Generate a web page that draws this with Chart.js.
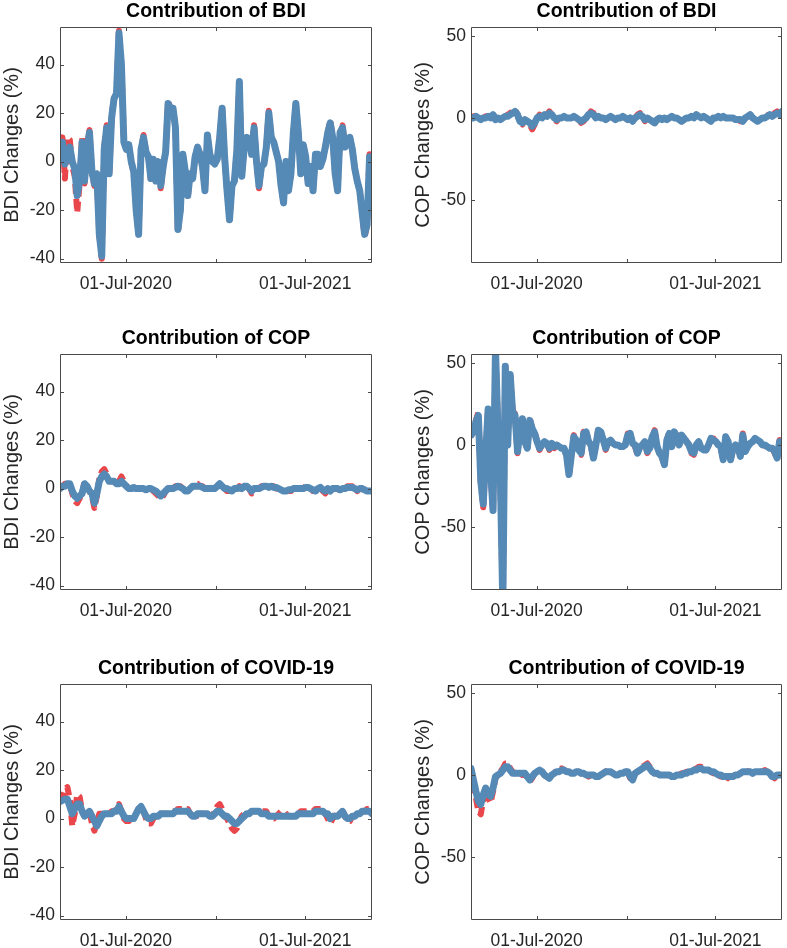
<!DOCTYPE html>
<html>
<head>
<meta charset="utf-8">
<script src="https://cdn.jsdelivr.net/npm/chart.js@4.4.0/dist/chart.umd.min.js"></script>
<style>
  body { margin: 0; background: #fff; width: 787px; height: 948px; position: relative; overflow: hidden; }
  canvas { position: absolute; }
</style>
</head>
<body>
<canvas id="c0"></canvas>
<canvas id="c1"></canvas>
<canvas id="c2"></canvas>
<canvas id="c3"></canvas>
<canvas id="c4"></canvas>
<canvas id="c5"></canvas>
<script>
// x values are days counted from 01-Jan-2020, one sample every 5 days
const dayNumbers = [];
for (let d = 48; d <= 683; d += 5) dayNumbers.push(d);

const xTickDays = [182, 366, 547];
const xTickLabels = ['01-Jul-2020', '', '01-Jul-2021'];
const leftYTicks = [-40, -20, 0, 20, 40];
const rightYTicks = [-50, 0, 50];
const leftYRange = [-41.8, 55.5];
const rightYRange = [-88.5, 55.5];

// Contribution of BDI -> BDI changes
const bdiBdiSolid = [
  4, 8, -1, 3, 6, 0, -3, -14, -8, 8,
  -8, 5, 12, -4, -9, -5, -30, -39, 5, 14,
  -5, 18, 26, 28, 53, 40, 8, 5, 7, 0,
  -4, -20, -30, 5, 10, 4, 2, -7, 1, -8,
  0, -10, -2, 4, 24, 22, 22, 14, -28, -20,
  3, -4, -14, -5, -7, 2, 6, 3, -2, -12,
  11, 3, 0, -1, 1, 10, 22, 2, -12, -24,
  -10, -8, 5, 33, -6, 6, 10, 9, 3, 14,
  0, -10, -2, -1, 6, 20, 10, 8, 4, 0,
  -10, -17, 0, -12, -5, 12, 24, 12, -5, 7,
  2, -9, -2, -12, 3, 3, -2, 1, 6, 12,
  16, 10, -5, -12, 12, 14, 6, 9, 10, 5,
  -3, -8, -12, -21, -30, -26, 2, 1
];
const bdiBdiDashed = [
  2, 10, -7, 10, 9, -2, -6, -21, -9, 10,
  -9, 6, 13, -5, -10, -6, -30, -40, 6, 15,
  -6, 19, 26, 28, 54, 40, 9, 5, 7, 0,
  -5, -20, -30, 5, 11, 4, 2, -8, 1, -9,
  0, -11, -2, 4, 25, 22, 22, 14, -29, -20,
  3, -4, -15, -5, -7, 2, 6, 3, -2, -12,
  11, 3, 0, -1, 1, 10, 23, 2, -12, -24,
  -10, -8, 5, 34, -6, 6, 10, 9, 3, 15,
  0, -11, -2, -1, 6, 21, 10, 8, 4, 0,
  -10, -17, 0, -12, -5, 12, 24, 12, -5, 7,
  2, -9, -2, -12, 3, 3, -2, 1, 6, 12,
  17, 10, -5, -12, 12, 15, 6, 9, 10, 5,
  -3, -8, -12, -21, -31, -26, 3, 1
];

// Contribution of BDI -> COP changes
const bdiCopSolid = [
  0, 0, 1, 0, -1, 0, 0, 1, 0, 2,
  -1, 0, -1, 0, 1, 1, 2, 3, 4, 2,
  -2, -3, -1, -2, -3, -5, -3, 0, 1, 0,
  2, 1, 3, 2, 0, -1, 0, 0, 1, 0,
  0, 0, 1, 0, -1, -2, -1, 0, 2, 3,
  2, 0, 1, 0, 0, -1, 0, 1, 0, -1,
  0, 0, 1, 0, -1, 0, -2, 0, 1, 2,
  1, -1, 0, -1, -2, -3, -1, 0, -1, 0,
  -1, 0, 1, 0, 0, -1, -2, -1, 0, 0,
  1, 0, 2, 1, 0, 1, 0, -1, -2, 0,
  0, 1, 0, 1, 0, 0, 0, 0, -1, -1,
  -1, -2, 0, 1, 2, 0, -1, -2, -1, 0,
  0, 1, 2, 1, 2, 3, 2, 4
];
const bdiCopDashed = [
  0, 1, 1, 0, -1, 0, 1, 1, 0, 3,
  -1, 0, -1, 0, 1, 2, 3, 4, 5, 2,
  -3, -4, -1, -3, -4, -7, -4, 0, 2, 1,
  3, 2, 4, 2, -1, -2, 0, 0, 1, 0,
  0, 0, 1, 0, -1, -3, -2, 0, 2, 4,
  3, 0, 1, 0, 0, -1, 0, 1, 0, -1,
  0, 0, 1, 0, -1, 0, -3, 0, 2, 3,
  1, -2, 0, -1, -3, -3, -1, 0, -1, 0,
  -1, 0, 1, 0, 0, -1, -2, -1, 0, 0,
  1, 0, 2, 1, 0, 1, 0, -1, -3, 0,
  0, 1, 0, 1, 0, 0, 0, 0, -1, -1,
  -2, -2, 0, 1, 2, 0, -1, -2, -1, 0,
  0, 1, 3, 1, 3, 4, 3, 5
];

// Contribution of COP -> BDI changes
const copBdiSolid = [
  0, 1, 1, 2, 2, -1, -3, -4, -3, -2,
  2, 1, -1, -2, -6, -2, 3, 5, 6, 5,
  3, 3, 3, 2, 2, 3, 2, 1, 0, 0,
  0.5, 0, 0, 0, 0, -0.5, 0, 0, -0.5, -1,
  -2, -3, -2, -1, 0, 0, 0, 0.5, 1, 0.5,
  0, -1, -1, 0, 1, 1, 1, 1, 0.5, 0,
  0, 0, 0, 0, 1, 2, 1, 0, 0, -0.5,
  -1, 0, 0, 0.5, 0, 1, 1, 0, -1, 0,
  0, 0, 0.5, 1, 1, 0.5, 1, 0.5, 0.5, 0,
  -0.5, -1, -1, -0.5, -0.5, 0, 0, 0, 0, 0,
  0.5, 0.5, 0, -0.5, -1, 0, 0.5, -0.5, -1, 0,
  -1, 0, 0, 0, -0.5, 0, 0, 0.5, 0.5, 0.5,
  0, -0.5, 0, 0, -0.5, -1, -1, -1
];
const copBdiDashed = [
  0, 1, 2, 2, 2, -2, -5, -6, -4, -2,
  3, 1, -1, -3, -8, -3, 4, 7, 8, 6,
  3, 3, 3, 2, 3, 5, 3, 1, 0, 0,
  0.5, 0, 0, 0, 0, -0.5, 0, 0, -1, -2,
  -3, -4, -3, -1, 0, 0, 0, 1, 1, 1,
  0, -1, -1, 0, 1, 2, 2, 1, 1, 0,
  0, 0, 0, 0, 1, 2, 1, 0, -1, -1,
  -1, 0, 0, 1, 0, 1, 1, 0, -2, -1,
  0, 0, 1, 1, 1, 1, 1, 1, 0, 0,
  -1, -1, -1, -1, -1, 0, 0, 0, 0, 0,
  1, 1, 0, -1, -1, 0, 0, -1, -2, 0,
  -1, 0, 0, 0, -1, 0, 0, 1, 1, 1,
  0, -1, 0, 0, -1, -1, -1, -1
];

// Contribution of COP -> COP changes
const copCopSolid = [
  6, 8, 14, 18, -22, -36, -5, 22, -15, -40,
  58, 10, -20, -98, 48, 0, 43, 20, 18, -4,
  8, 16, 2, -2, 15, 10, 7, 2, -2, 0,
  2, 1, -2, 1, -1, 0, -1, -2, -2, -6,
  -18, -6, 5, 3, -3, -5, 7, 8, 2, 0,
  -8, 0, 9, 8, 3, -2, 2, 3, 1, 0,
  0, -1, -1, 0, 6, 7, 1, 0, -5, -1,
  0, 2, -4, -2, 5, 8, -1, -5, -7, -12,
  3, 7, -1, 8, 5, 0, 6, 4, 2, 0,
  -4, -5, 0, 2, -2, -3, -3, 0, 4, 3,
  2, 0, -1, -9, 5, 2, -9, -2, 0, -1,
  -7, 6, -4, -1, 1, 2, 4, 3, 2, 0,
  0, -1, -2, -2, -4, -8, 2, -2
];
const copCopDashed = [
  5, 9, 15, 20, -23, -38, -6, 23, -16, -41,
  58, 11, -21, -98, 50, 1, 44, 21, 19, -5,
  9, 17, 3, -3, 16, 10, 8, 2, -3, 0,
  2, 1, -3, 1, -2, 0, -2, -2, -2, -7,
  -18, -6, 6, 3, -4, -6, 8, 9, 2, -1,
  -8, 0, 10, 8, 3, -3, 2, 3, 1, 0,
  0, -2, -1, 0, 7, 7, 1, -1, -6, -1,
  0, 2, -5, -2, 5, 9, -1, -5, -8, -12,
  3, 8, -2, 8, 6, 0, 6, 5, 2, 0,
  -5, -6, 0, 2, -3, -4, -3, 0, 4, 4,
  2, 0, -2, -9, 5, 2, -9, -3, 0, -1,
  -7, 7, -4, -1, 1, 2, 4, 3, 2, 0,
  0, -2, -3, -2, -5, -9, 3, -2
];

// Contribution of COVID-19 -> BDI changes
const covidBdiSolid = [
  7, 7.5, 8, 8, 5, 2, 4, 6, 6, 3,
  1, 2, 3, 1, -1, -3, -1, 1, 2, 2,
  2, 2, 3, 3, 5, 3, 1, 0, 0, 0,
  0, 2, 4, 5, 3, 1, 0, 0, 1, 1,
  1, 2, 2, 2, 2, 2, 2, 3, 3, 3,
  3, 3, 3, 2, 1, 1, 2, 2, 2, 2,
  2, 1, 1, 2, 3, 3, 2, 1, 1, 0,
  -1, -2, -2, -1, 0, 1, 2, 2, 3, 3,
  3, 3, 2, 2, 2, 1, 1, 1, 1, 1,
  1, 1, 1, 1, 1, 1, 1, 2, 2, 2,
  2, 2, 2, 2, 3, 3, 3, 3, 2, 2,
  0, 1, 1, 1, 2, 3, 1, 0, 0, 1,
  1, 2, 2, 3, 3, 3, 3, 2
];
const covidBdiDashed = [
  7, 9, 12, 13, 8, -3, 2, 10, 9, 3,
  1, 2, 3, -2, -5, -2, 2, 2, 2, 2,
  2, 3, 3, 4, 6, 3, 0, -1, -1, 0,
  1, 2, 4, 5, 3, 0, -2, -2, 0, 1,
  2, 2, 2, 2, 2, 3, 3, 3, 4, 4,
  4, 4, 4, 2, 0, 0, 2, 2, 2, 2,
  2, 1, 1, 3, 5, 6, 4, 1, 0, -2,
  -4, -5, -4, -1, 1, 2, 2, 2, 3, 3,
  3, 3, 3, 3, 3, 1, 0, 0, 1, 2,
  3, 3, 2, 1, 1, 1, 1, 2, 3, 3,
  3, 3, 3, 3, 4, 4, 4, 4, 2, 0,
  -2, 0, 1, 2, 3, 3, 1, -1, -1, 1,
  1, 2, 2, 3, 3, 4, 4, 2
];

// Contribution of COVID-19 -> COP changes
const covidCopSolid = [
  4, -3, -10, -16, -18, -12, -8, -12, -13, -8,
  -1, 0, 1, 3, 5, 5, 3, 1, 1, 1,
  1, 1, 1, -1, -3, -1, 1, 2, 3, 2,
  0, -1, -2, 0, 1, 2, 2, 3, 3, 2,
  2, 1, 1, 2, 2, 1, 1, 0, 0, 0,
  0, -1, -1, 0, 1, 2, 2, 2, 1, 0,
  0, 1, 1, 2, 2, -1, -3, 1, 2, 3,
  4, 5, 6, 4, 2, 1, 1, 0, 0, 0,
  0, 0, -1, -1, 0, 0, 0, 1, 1, 2,
  2, 3, 3, 4, 4, 3, 3, 3, 2, 2,
  1, 0, 0, -1, -1, -1, -1, -1, 0, 0,
  1, 2, 2, 2, 2, 1, 2, 2, 2, 2,
  2, 2, 1, -1, -1, 0, 0, 0
];
const covidCopDashed = [
  4, -5, -14, -22, -24, -15, -9, -14, -17, -10,
  -2, 0, 2, 4, 7, 7, 4, 2, 1, 1,
  1, 0, 1, -2, -4, -2, 1, 3, 3, 2,
  0, -2, -2, 0, 1, 3, 3, 4, 3, 2,
  2, 1, 1, 2, 2, 1, 0, 0, -1, 0,
  0, -1, -2, 0, 1, 2, 3, 2, 1, 0,
  0, 1, 2, 2, 2, -2, -3, 1, 2, 3,
  5, 6, 7, 5, 2, 1, 1, 0, -1, -1,
  0, 0, -1, -1, 0, 0, 1, 1, 2, 2,
  3, 3, 4, 5, 5, 4, 3, 3, 2, 1,
  1, 0, -1, -1, -1, -2, -1, -1, 0, 0,
  1, 2, 3, 2, 2, 1, 2, 3, 2, 2,
  3, 2, 1, -1, -2, 0, 0, 0
];

const fontFamily = "'Liberation Sans', Arial, sans-serif";
const axisColor = '#262626';
const solidColor = '#568ab6';
const dashedColor = '#e9474c';

// box round the plot plus inward tick marks, like the original figure
const framePlugin = {
    id: 'frame',
    afterDatasetsDraw(chart) {
        const { ctx, chartArea: a, scales: { x, y } } = chart;
        const len = 4;
        ctx.save();
        ctx.strokeStyle = '#4a4a4a';
        ctx.lineWidth = 1;
        ctx.beginPath();
        ctx.rect(a.left + 0.5, a.top + 0.5, a.width - 1, a.height - 1);
        x.ticks.forEach(t => {
            const px = Math.round(x.getPixelForValue(t.value)) + 0.5;
            ctx.moveTo(px, a.bottom); ctx.lineTo(px, a.bottom - len);
            ctx.moveTo(px, a.top); ctx.lineTo(px, a.top + len);
        });
        y.ticks.forEach(t => {
            const py = Math.round(y.getPixelForValue(t.value)) + 0.5;
            ctx.moveTo(a.left, py); ctx.lineTo(a.left + len, py);
            ctx.moveTo(a.right, py); ctx.lineTo(a.right - len, py);
        });
        ctx.stroke();
        ctx.restore();
    }
};

const panels = [
    { id: 'c0', left: 0, top: 0, width: 393, height: 300, padRight: 21, title: 'Contribution of BDI', yLabel: 'BDI Changes (%)', solid: bdiBdiSolid, dashed: bdiBdiDashed, yRange: leftYRange, yTicks: leftYTicks },
    { id: 'c1', left: 411, top: 0, width: 376, height: 300, padRight: 5, title: 'Contribution of BDI', yLabel: 'COP Changes (%)', solid: bdiCopSolid, dashed: bdiCopDashed, yRange: rightYRange, yTicks: rightYTicks },
    { id: 'c2', left: 0, top: 327, width: 393, height: 303, padRight: 21, title: 'Contribution of COP', yLabel: 'BDI Changes (%)', solid: copBdiSolid, dashed: copBdiDashed, yRange: leftYRange, yTicks: leftYTicks },
    { id: 'c3', left: 411, top: 327, width: 376, height: 303, padRight: 5, title: 'Contribution of COP', yLabel: 'COP Changes (%)', solid: copCopSolid, dashed: copCopDashed, yRange: rightYRange, yTicks: rightYTicks },
    { id: 'c4', left: 0, top: 657, width: 393, height: 303, padRight: 21, title: 'Contribution of COVID-19', yLabel: 'BDI Changes (%)', solid: covidBdiSolid, dashed: covidBdiDashed, yRange: leftYRange, yTicks: leftYTicks },
    { id: 'c5', left: 411, top: 657, width: 376, height: 303, padRight: 5, title: 'Contribution of COVID-19', yLabel: 'COP Changes (%)', solid: covidCopSolid, dashed: covidCopDashed, yRange: rightYRange, yTicks: rightYTicks }
];

panels.forEach(p => {
    const canvas = document.getElementById(p.id);
    canvas.width = p.width;
    canvas.height = p.height;
    canvas.style.left = p.left + 'px';
    canvas.style.top = p.top + 'px';

    new Chart(canvas, {
        type: 'line',
        data: {
            datasets: [
                {
                    label: 'solid',
                    data: dayNumbers.map((d, i) => ({ x: d, y: p.solid[i] })),
                    borderColor: solidColor,
                    borderWidth: 7,
                    borderJoinStyle: 'round',
                    borderCapStyle: 'round',
                    pointRadius: 0,
                    tension: 0,
                    order: 0
                },
                {
                    label: 'dashed',
                    data: dayNumbers.map((d, i) => ({ x: d, y: p.dashed[i] })),
                    borderColor: dashedColor,
                    borderWidth: 6,
                    borderDash: [10, 5],
                    borderJoinStyle: 'round',
                    pointRadius: 0,
                    tension: 0,
                    order: 1
                }
            ]
        },
        options: {
            responsive: false,
            animation: false,
            events: [],
            layout: { padding: { left: 0, right: p.padRight, top: 0, bottom: 0 } },
            plugins: {
                legend: { display: false },
                tooltip: { enabled: false },
                title: {
                    display: true,
                    fullSize: false,
                    text: p.title,
                    color: '#000',
                    font: { family: fontFamily, size: 19.5, weight: 'bold', lineHeight: 1.1 },
                    padding: { top: 1, bottom: 26 - 21.45 }
                }
            },
            scales: {
                x: {
                    type: 'linear',
                    min: 48,
                    max: 683,
                    afterBuildTicks: s => { s.ticks = xTickDays.map(v => ({ value: v })); },
                    afterFit: s => { s.height = p.height - 27 - 236; },
                    grid: { display: false, drawTicks: false },
                    border: { display: false },
                    ticks: {
                        autoSkip: false,
                        maxRotation: 0,
                        padding: 11,
                        color: axisColor,
                        font: { family: fontFamily, size: 17.5 },
                        callback: v => xTickLabels[xTickDays.indexOf(v)]
                    }
                },
                y: {
                    min: p.yRange[0],
                    max: p.yRange[1],
                    afterBuildTicks: s => { s.ticks = p.yTicks.map(v => ({ value: v })); },
                    afterFit: s => { s.width = 60; },
                    grid: { display: false, drawTicks: false },
                    border: { display: false },
                    ticks: {
                        padding: 5,
                        color: axisColor,
                        font: { family: fontFamily, size: 17.5 }
                    },
                    title: {
                        display: true,
                        text: p.yLabel,
                        color: axisColor,
                        font: { family: fontFamily, size: 20, lineHeight: 1.1 },
                        padding: { top: 1, bottom: 0 }
                    }
                }
            }
        },
        plugins: [framePlugin]
    });
});
</script>
</body>
</html>
